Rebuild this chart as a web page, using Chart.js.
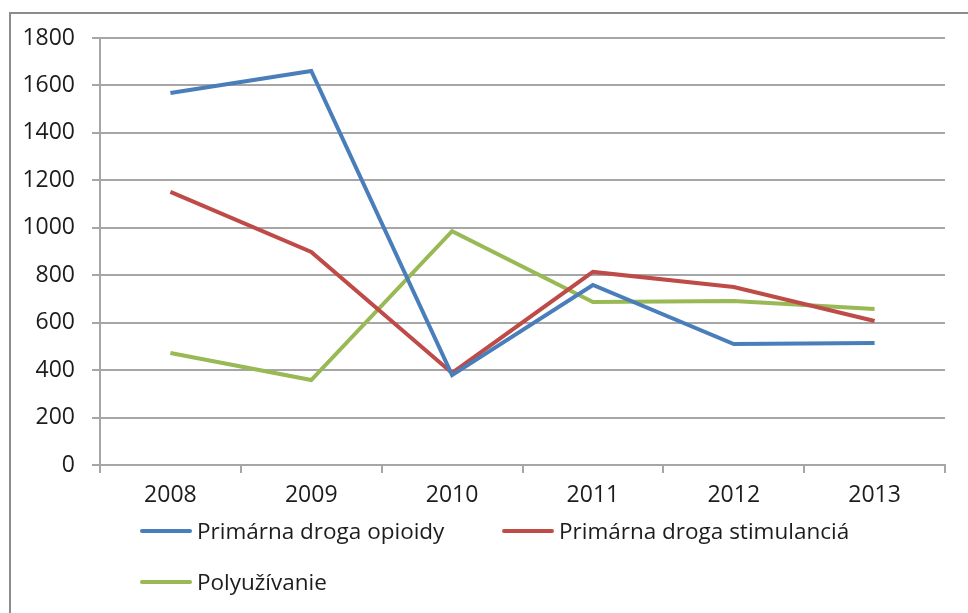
<!DOCTYPE html>
<html>
<head>
<meta charset="utf-8">
<script src="https://cdn.jsdelivr.net/npm/chart.js@4"></script>
<style>
  html, body { margin: 0; padding: 0; background: #fff; }
  #wrap { position: relative; width: 968px; height: 613px; overflow: hidden; }
  #frame { position: absolute; left: 9px; top: 12px; right: -10px; bottom: -10px;
           border-top: 2px solid #8c8c8c; border-left: 2px solid #8c8c8c; }
  #chart { position: absolute; left: 0; top: 0; }
  .legend-item { position: absolute; display: flex; align-items: center;
                 font: 22.5px "Open Sans", sans-serif; color: #1c1c1c; white-space: nowrap; }
  .legend-item span.swatch { display: inline-block; width: 52px; height: 4px;
                             border-radius: 2px; margin-right: 5px; }
</style>
</head>
<body>
<div id="wrap">
  <div id="frame"></div>
  <canvas id="chart" width="968" height="613"></canvas>
  <div id="legend"></div>
</div>
<script>
// Years on the category axis
const years = ["2008", "2009", "2010", "2011", "2012", "2013"];

// Number of clients per year
const opioidy = [1568, 1661, 379, 759, 510, 514];
const stimulancia = [1151, 898, 388, 814, 750, 607];
const polyuzivanie = [472, 358, 986, 687, 691, 658];

const seriesNames = ["Primárna droga opioidy", "Primárna droga stimulanciá", "Polyužívanie"];
const seriesColors = ["#4a7ebb", "#be4b48", "#98b954"];

const datasets = [opioidy, stimulancia, polyuzivanie].map((values, i) => ({
    label: seriesNames[i],
    data: values,
    borderColor: seriesColors[i],
    backgroundColor: seriesColors[i],
    borderWidth: 4,
    pointRadius: 0,
    tension: 0,
    fill: false,
}));

const gridColor = "#a6a6a6";
const tickFont = { family: "Open Sans", size: 23 };

new Chart(document.getElementById("chart"), {
    type: "line",
    data: { labels: years, datasets: datasets },
    options: {
        responsive: false,
        animation: false,
        layout: { padding: { left: 0, top: 38, right: 23, bottom: 98 } },
        plugins: { legend: { display: false }, tooltip: { enabled: false } },
        scales: {
            x: {
                offset: true,
                grid: { offset: true, drawOnChartArea: false, color: gridColor, lineWidth: 2, tickLength: 8 },
                border: { color: gridColor, width: 2 },
                ticks: { font: tickFont, color: "#1c1c1c", padding: 9, maxRotation: 0 },
                afterFit: (scale) => { scale.height = 50; },
            },
            y: {
                min: 0,
                max: 1800,
                grid: { color: gridColor, lineWidth: 2, tickLength: 8 },
                border: { color: gridColor, width: 2 },
                ticks: {
                    stepSize: 200,
                    font: tickFont,
                    color: "#1c1c1c",
                    padding: 17,
                    callback: (value) => String(value),
                },
                afterFit: (scale) => { scale.width = 100; },
            },
        },
    },
});

// Legend laid out in two rows, left aligned under the axis
const legendSpots = [[140, 515], [502, 515], [140, 566]];
const legend = document.getElementById("legend");
datasets.forEach((ds, i) => {
    const item = document.createElement("div");
    item.className = "legend-item";
    item.style.left = legendSpots[i][0] + "px";
    item.style.top = legendSpots[i][1] + "px";
    item.innerHTML = `<span class="swatch" style="background:${ds.borderColor}"></span>${ds.label}`;
    legend.appendChild(item);
});
</script>
</body>
</html>
